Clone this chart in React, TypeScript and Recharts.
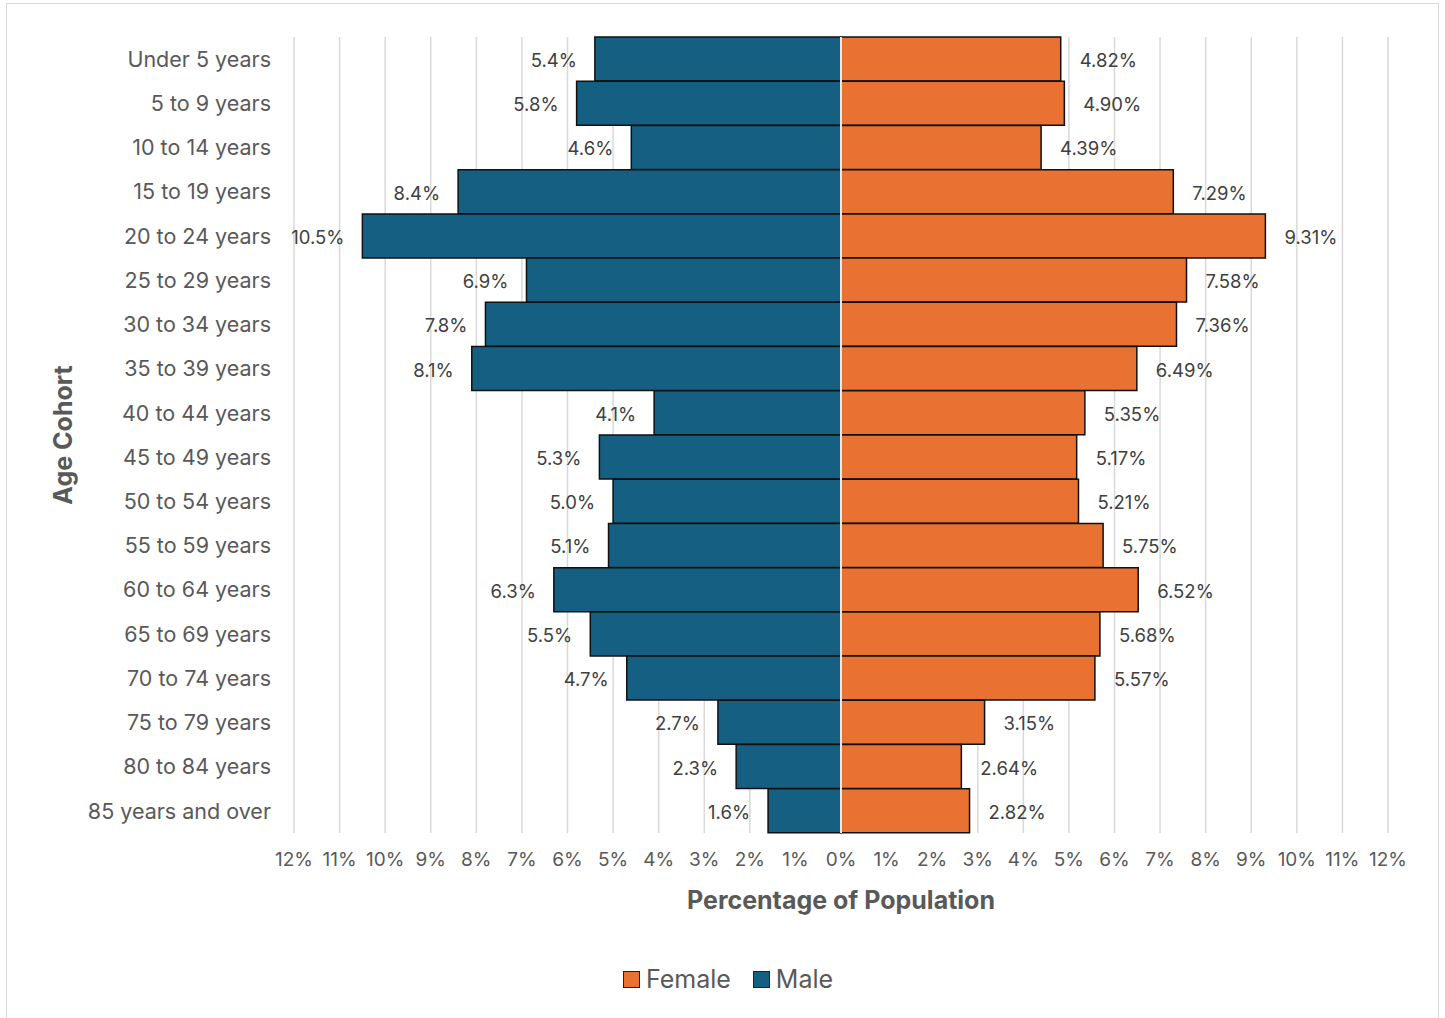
import React from 'react';
import { BarChart, Bar, XAxis, YAxis, CartesianGrid, ReferenceLine, LabelList, Legend } from 'recharts';

const categories = [
  'Under 5 years', '5 to 9 years', '10 to 14 years', '15 to 19 years', '20 to 24 years',
  '25 to 29 years', '30 to 34 years', '35 to 39 years', '40 to 44 years', '45 to 49 years',
  '50 to 54 years', '55 to 59 years', '60 to 64 years', '65 to 69 years', '70 to 74 years',
  '75 to 79 years', '80 to 84 years', '85 years and over',
];
const maleValues = [5.4, 5.8, 4.6, 8.4, 10.5, 6.9, 7.8, 8.1, 4.1, 5.3, 5.0, 5.1, 6.3, 5.5, 4.7, 2.7, 2.3, 1.6];
const femaleValues = [4.82, 4.90, 4.39, 7.29, 9.31, 7.58, 7.36, 6.49, 5.35, 5.17, 5.21, 5.75, 6.52, 5.68, 5.57, 3.15, 2.64, 2.82];
const xTicks = [-12, -11, -10, -9, -8, -7, -6, -5, -4, -3, -2, -1, 0, 1, 2, 3, 4, 5, 6, 7, 8, 9, 10, 11, 12];

const MALE = '#156082';
const FEMALE = '#E97132';
const FONT = 'Inter, "Open Sans", sans-serif';

const data = categories.map((c, i) => ({ age: c, male: -maleValues[i], female: femaleValues[i] }));

const MaleLabel = (p: any) => {
  const { x, y, width, height, index } = p;
  const left = Math.min(x, x + width);
  return (
    <text x={left - 18} y={y + height / 2 + 1} textAnchor="end" dominantBaseline="central"
      fontSize={18.5} fill="#404040" fontFamily={FONT}>
      {maleValues[index].toFixed(1)}%
    </text>
  );
};

const FemaleLabel = (p: any) => {
  const { x, y, width, height, index } = p;
  const right = Math.max(x, x + width);
  return (
    <text x={right + 19} y={y + height / 2 + 1} textAnchor="start" dominantBaseline="central"
      fontSize={18.5} fill="#404040" fontFamily={FONT}>
      {femaleValues[index].toFixed(2)}%
    </text>
  );
};

const YTitle = (p: any) => {
  const vb = p.viewBox || {};
  const cx = vb.x + 23;
  const cy = vb.y + vb.height / 2;
  return (
    <text x={cx} y={cy} transform={`rotate(-90 ${cx} ${cy})`} textAnchor="middle" dominantBaseline="central"
      fontSize={25} fontWeight={700} fill="#595959" fontFamily={FONT}>
      Age Cohort
    </text>
  );
};

const XTitle = (p: any) => {
  const vb = p.viewBox || {};
  const cx = vb.x + vb.width / 2;
  const cy = vb.y + 67;
  return (
    <text x={cx} y={cy} textAnchor="middle" dominantBaseline="central"
      fontSize={25} fontWeight={700} fill="#595959" fontFamily={FONT}>
      Percentage of Population
    </text>
  );
};

const LegendContent = () => (
  <div style={{ display: 'flex', justifyContent: 'center', alignItems: 'center', fontFamily: FONT, fontSize: 25, color: '#595959' }}>
    {[{ n: 'Female', c: FEMALE }, { n: 'Male', c: MALE }].map((it) => (
      <div key={it.n} style={{ display: 'flex', alignItems: 'center', margin: '0 11px' }}>
        <span style={{ display: 'inline-block', width: 15, height: 15, background: it.c, border: '1.5px solid #222', marginRight: 6 }} />
        <span>{it.n}</span>
      </div>
    ))}
  </div>
);

export default function App() {
  return (
    <div style={{ position: 'absolute', left: 0, top: 0, width: 1445, height: 1018, background: '#fff', overflow: 'hidden' }}>
      <div style={{ position: 'absolute', left: 6, top: 3, width: 1433, height: 1030, border: '1.5px solid #d9d9d9', boxSizing: 'border-box' }} />
      <div style={{ position: 'absolute', left: 0, top: 0 }}>
        <BarChart
          width={1445}
          height={1018}
          data={data}
          layout="vertical"
          stackOffset="sign"
          barCategoryGap={0}
          margin={{ top: 37, right: 57, bottom: 115, left: 40 }}
        >
          <CartesianGrid horizontal={false} vertical stroke="#d9d9d9" strokeWidth={1.5} />
          <XAxis
            type="number"
            domain={[-12, 12]}
            ticks={xTicks}
            interval={0}
            allowDataOverflow
            tickFormatter={(v: number) => `${Math.abs(v)}%`}
            axisLine={false}
            tickLine={false}
            tickSize={0}
            tickMargin={20}
            height={70}
            tick={{ fontSize: 19, fill: '#595959', fontFamily: FONT }}
            label={{ content: XTitle } as any}
          />
          <YAxis
            type="category"
            dataKey="age"
            width={254}
            axisLine={false}
            tickLine={false}
            tickSize={0}
            tickMargin={23}
            interval={0}
            tick={{ fontSize: 21.5, fill: '#595959', fontFamily: FONT }}
            label={{ content: YTitle } as any}
          />
          <Bar dataKey="male" name="Male" stackId="a" fill={MALE} stroke="#111" strokeWidth={1.5} isAnimationActive={false}>
            <LabelList dataKey="male" content={MaleLabel} />
          </Bar>
          <Bar dataKey="female" name="Female" stackId="a" fill={FEMALE} stroke="#111" strokeWidth={1.5} isAnimationActive={false}>
            <LabelList dataKey="female" content={FemaleLabel} />
          </Bar>
          <ReferenceLine x={0} stroke="#e8e8e8" strokeWidth={2} />
          <Legend
            layout="horizontal"
            verticalAlign="middle"
            align="center"
            content={LegendContent}
            wrapperStyle={{ position: 'absolute', top: 964, left: 0, width: 1456 }}
          />
        </BarChart>
      </div>
    </div>
  );
}
